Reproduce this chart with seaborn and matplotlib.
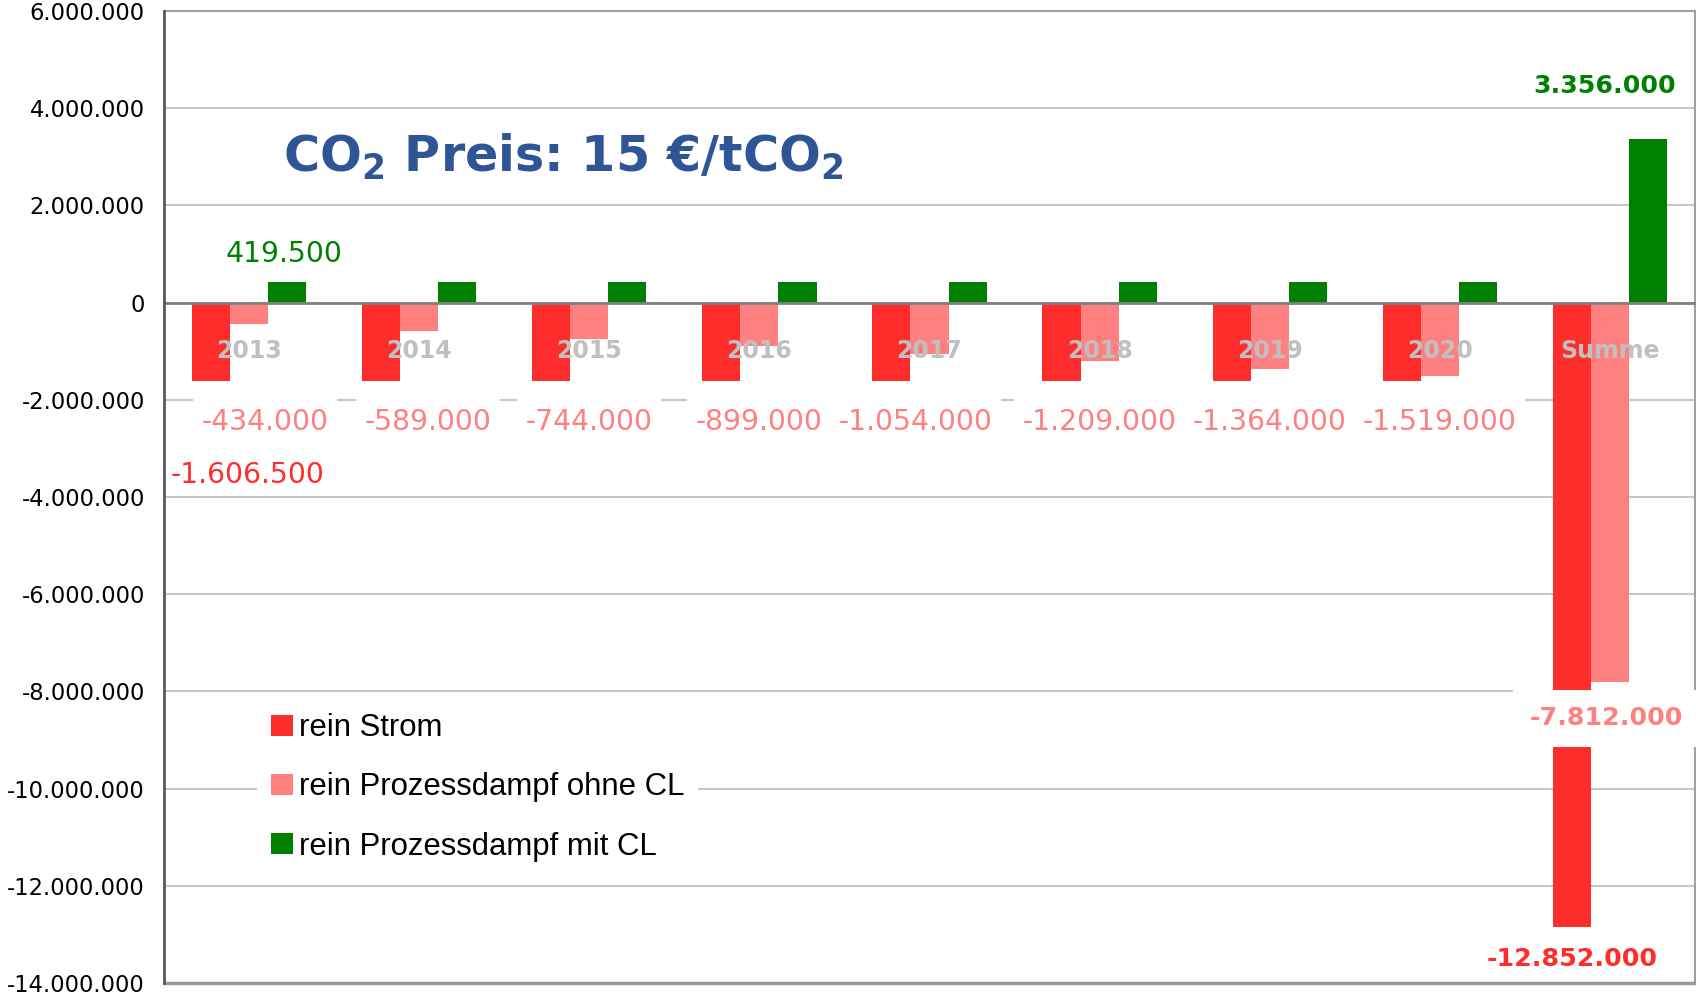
import numpy as np
import pandas as pd
import seaborn as sns
from matplotlib import pyplot as plt
from matplotlib.patches import Patch
from matplotlib.ticker import FuncFormatter

sns.set_style("white")
plt.rcParams["font.family"] = ["DejaVu Sans"]
plt.rcParams["mathtext.fontset"] = "dejavusans"
plt.rcParams["text.color"] = "black"

RED = "#FF2C2C"
PINK = "#FF8080"
GREEN = "#008000"
TITLE_BLUE = "#2F5597"
YEAR_GRAY = "#C0C0C0"

YEARS = ["2013", "2014", "2015", "2016", "2017", "2018", "2019", "2020", "Summe"]
SERIES = ["rein Strom", "rein Prozessdampf ohne CL", "rein Prozessdampf mit CL"]

STROM = [-1606500, -1606500, -1606500, -1606500, -1606500,
         -1606500, -1606500, -1606500, -12852000]
OHNE_CL = [-434000, -589000, -744000, -899000, -1054000,
           -1209000, -1364000, -1519000, -7812000]
MIT_CL = [419500, 419500, 419500, 419500, 419500,
          419500, 419500, 419500, 3356000]

PALETTE = dict(zip(SERIES, [RED, PINK, GREEN]))

# small horizontal nudges of the yearly "ohne CL" labels (category units)
PINK_LABEL_DX = [0.095, 0.05, 0.0, 0.0, -0.083, 0.0, 0.0, 0.0]


def de_format(v, pos=None):
    return f"{int(round(v)):,}".replace(",", ".")


df = pd.DataFrame({
    "Jahr": YEARS * 3,
    "Reihe": np.repeat(SERIES, len(YEARS)),
    "Wert": STROM + OHNE_CL + MIT_CL,
})

fig = plt.figure(figsize=(16.96, 9.98), dpi=100)
ax = fig.add_axes([164 / 1696, 15 / 998, 1531 / 1696, 972 / 998])

sns.barplot(
    data=df, x="Jahr", y="Wert", hue="Reihe",
    order=YEARS, hue_order=SERIES, palette=PALETTE,
    saturation=1, width=0.672, errorbar=None, legend=False,
    linewidth=0, ax=ax, zorder=2,
)

# axes styling
ax.set_xlim(-0.5, len(YEARS) - 0.5)
ax.set_ylim(-14_000_000, 6_000_000)
ax.set_yticks(range(-14_000_000, 6_000_001, 2_000_000))
ax.yaxis.set_major_formatter(FuncFormatter(de_format))
ax.yaxis.grid(True, color="#C8C8C8", lw=1.5)
ax.set_axisbelow(True)
ax.set_xlabel("")
ax.set_ylabel("")

ax.set_xticks(np.arange(0.5, len(YEARS) - 1, 1))
ax.set_xticklabels([""] * (len(YEARS) - 1))
ax.tick_params(axis="x", length=9, width=1.5, color="#808080", labelbottom=False)
ax.tick_params(axis="y", length=9, width=1.5, color="#5A5A5A",
               labelsize=16.3, pad=4.8, labelcolor="black")

ax.spines["bottom"].set_position(("data", 0))
ax.spines["bottom"].set_color("#808080")
ax.spines["bottom"].set_linewidth(2)
ax.spines["bottom"].set_zorder(3)
ax.spines["left"].set_color("#5A5A5A")
ax.spines["left"].set_linewidth(2)
ax.spines["left"].set_zorder(8)
for side in ["top", "right"]:
    ax.spines[side].set_color("#A0A0A0")
    ax.spines[side].set_linewidth(1.5)
ax.axhline(-14_000_000, color="#999999", lw=2.5, clip_on=False, zorder=3)

# bar centres per series
centers = [[b.get_x() + b.get_width() / 2 for b in c] for c in ax.containers]

# category labels inside the plot
for i, year in enumerate(YEARS):
    ax.text(i, -1_000_000, year, ha="center", va="center", color=YEAR_GRAY,
            fontsize=17, fontweight="bold", zorder=6)

# data labels
box = dict(boxstyle="square,pad=0.3", facecolor="white", edgecolor="none")
for i in range(len(YEARS) - 1):
    ax.text(centers[1][i] + PINK_LABEL_DX[i], -2_450_000, de_format(OHNE_CL[i]),
            ha="center", va="center", color=PINK, fontsize=20.3, bbox=box,
            zorder=5)

ax.text(centers[1][0] - 0.01, -3_540_000, de_format(STROM[0]), ha="center",
        va="center", color=RED, fontsize=20.3, zorder=5)
ax.text(centers[2][0] - 0.02, 990_000, de_format(MIT_CL[0]), ha="center",
        va="center", color=GREEN, fontsize=20.3, zorder=5)

s = len(YEARS) - 1
bold_box = dict(boxstyle="square,pad=0.65", facecolor="white", edgecolor="none")
ax.text(centers[1][s] - 0.03, 4_450_000, de_format(MIT_CL[s]), ha="center",
        va="center", color=GREEN, fontsize=18.2, fontweight="bold", zorder=5)
ax.text(centers[1][s] - 0.02, -8_550_000, de_format(OHNE_CL[s]), ha="center",
        va="center", color=PINK, fontsize=18.2, fontweight="bold",
        bbox=bold_box, zorder=5)
ax.text(centers[0][s], -13_500_000, de_format(STROM[s]), ha="center",
        va="center", color=RED, fontsize=18.2, fontweight="bold", zorder=5)

# title
ax.text(0.0777, 0.834, r"CO$_\mathbf{2}$ Preis: 15 €/tCO$_\mathbf{2}$",
        transform=ax.transAxes, fontsize=35.5, fontweight="bold",
        color=TITLE_BLUE, ha="left", va="baseline", zorder=6)

# legend
handles = [Patch(facecolor=PALETTE[name], edgecolor="none", label=name)
           for name in SERIES]
leg = ax.legend(
    handles=handles, loc="upper left", bbox_to_anchor=(0.061, 0.292),
    frameon=True, facecolor="white", edgecolor="none", framealpha=1,
    fancybox=False, prop={"family": "Liberation Sans", "size": 22.4},
    handlelength=0.68, handleheight=0.68, handletextpad=0.2,
    labelspacing=0.94, borderpad=0.45, borderaxespad=0, labelcolor="black",
)
leg.set_zorder(6)

fig.savefig("out.png", dpi=100)
